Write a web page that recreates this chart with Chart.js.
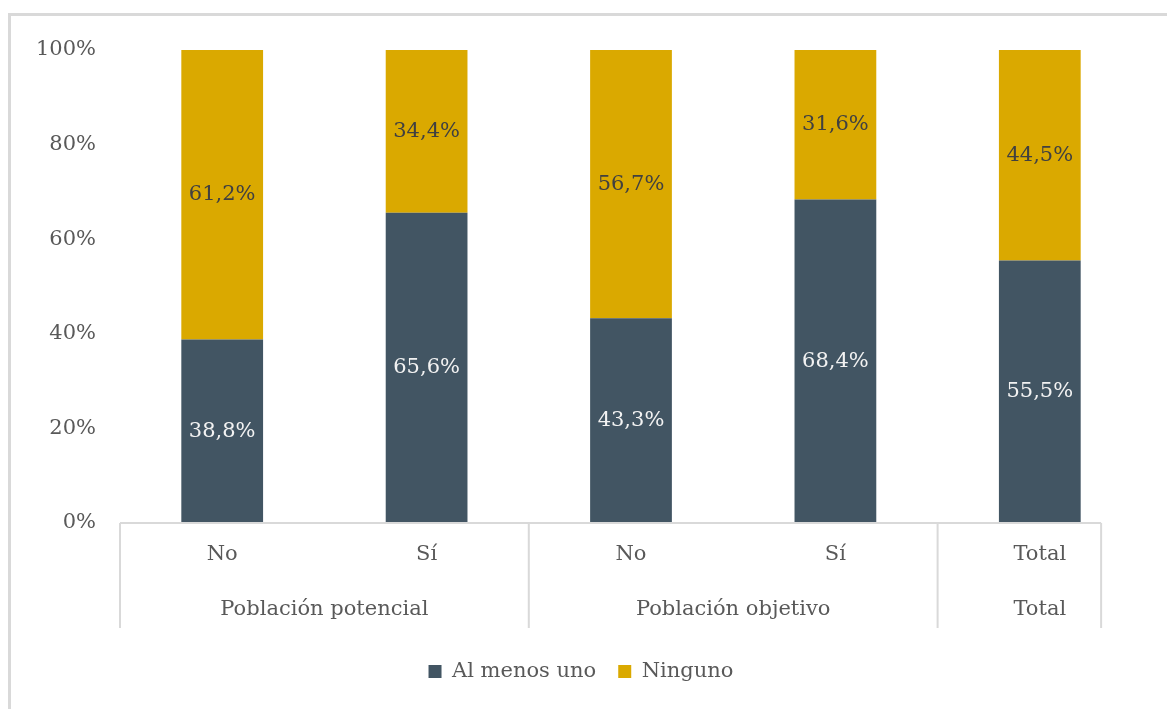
<!DOCTYPE html>
<html>
<head>
<meta charset="utf-8">
<script src="https://cdn.jsdelivr.net/npm/chart.js@4/dist/chart.umd.min.js"></script>
<style>
  html, body { margin: 0; padding: 0; background: #fff; }
  #wrap { position: absolute; left: 8px; top: 13px; width: 1159px; height: 696px;
          border-top: 3px solid #d9d9d9; border-left: 3px solid #d9d9d9; }
  #box { position: absolute; left: 0; top: 0; width: 1167px; height: 709px; }
</style>
</head>
<body>
<div id="wrap"></div>
<div id="box"><canvas id="chart"></canvas></div>
<script>
// categories
var subLabels = ['No', 'Sí', 'No', 'Sí', 'Total'];
var groupLabels = ['Población potencial', 'Población objetivo', 'Total'];
var groupSizes = [2, 2, 1];

// series (percent)
var alMenosUno = [38.8, 65.6, 43.3, 68.4, 55.5];
var ninguno = [61.2, 34.4, 56.7, 31.6, 44.5];

var yTicks = [0, 20, 40, 60, 80, 100];

var FONT = '"DejaVu Serif", "Liberation Serif", serif';
var FSIZE = 21;
var fmt = v => v.toFixed(1).replace('.', ',') + '%';

// data labels inside each segment
var valueLabels = {
  id: 'valueLabels',
  afterDatasetsDraw(chart) {
    var ctx = chart.ctx;
    ctx.save();
    ctx.font = FSIZE + 'px ' + FONT;
    ctx.textAlign = 'center';
    ctx.textBaseline = 'middle';
    chart.data.datasets.forEach((ds, i) => {
      chart.getDatasetMeta(i).data.forEach((bar, j) => {
        ctx.fillStyle = i === 0 ? '#f2f2f2' : '#404040';
        ctx.fillText(fmt(ds.data[j]), bar.x, (bar.y + bar.base) / 2);
      });
    });
    ctx.restore();
  }
};

// second label row + separators
var groupAxis = {
  id: 'groupAxis',
  afterDraw(chart) {
    var ctx = chart.ctx;
    var x = chart.scales.x;
    var top = chart.chartArea.bottom;
    var bottom = top + 105;
    var step = x.getPixelForValue(1) - x.getPixelForValue(0);
    var last = subLabels.length - 1;
    var endX = x.getPixelForValue(last) + step * 0.3;
    ctx.save();
    ctx.strokeStyle = '#d9d9d9';
    ctx.lineWidth = 2;
    ctx.beginPath();
    ctx.moveTo(x.left, top);
    ctx.lineTo(endX, top);
    ctx.stroke();
    ctx.font = FSIZE + 'px ' + FONT;
    ctx.fillStyle = '#595959';
    ctx.textAlign = 'center';
    ctx.textBaseline = 'middle';
    var idx = 0;
    var edges = [x.getPixelForValue(0) - step / 2];
    groupSizes.forEach((n, g) => {
      var a = x.getPixelForValue(idx) - step / 2;
      var b = x.getPixelForValue(idx + n - 1) + step / 2;
      edges.push(Math.min(b, endX));
      ctx.fillText(groupLabels[g], (a + b) / 2, top + 87);
      idx += n;
    });
    ctx.beginPath();
    edges.forEach(e => { ctx.moveTo(e, top); ctx.lineTo(e, bottom); });
    ctx.stroke();
    ctx.restore();
  }
};

new Chart(document.getElementById('chart'), {
  type: 'bar',
  data: {
    labels: subLabels,
    datasets: [
      { label: 'Al menos uno', data: alMenosUno, backgroundColor: '#425563' },
      { label: 'Ninguno', data: ninguno, backgroundColor: '#daa900' }
    ]
  },
  options: {
    responsive: true,
    maintainAspectRatio: false,
    animation: false,
    layout: { padding: { left: 20, right: 25, top: 50, bottom: 17 } },
    datasets: { bar: { categoryPercentage: 1, barPercentage: 0.4 } },
    scales: {
      x: {
        stacked: true,
        grid: { display: false },
        border: { display: false },
        ticks: { color: '#595959', font: { family: FONT, size: FSIZE }, padding: 11, maxRotation: 0 },
        afterFit(scale) { scale.height = 116; }
      },
      y: {
        stacked: true,
        min: 0,
        max: 100,
        grid: { display: false },
        border: { display: false },
        afterBuildTicks(scale) { scale.ticks = yTicks.map(v => ({ value: v })); },
        afterFit(scale) { scale.width = 100; },
        ticks: {
          color: '#595959',
          font: { family: FONT, size: FSIZE },
          padding: 16,
          callback: v => v + '%'
        }
      }
    },
    plugins: {
      legend: {
        position: 'bottom',
        labels: {
          color: '#595959',
          font: { family: FONT, size: FSIZE },
          boxWidth: 13,
          boxHeight: 13,
          padding: 22
        }
      },
      tooltip: { enabled: false }
    }
  },
  plugins: [valueLabels, groupAxis]
});
</script>
</body>
</html>
